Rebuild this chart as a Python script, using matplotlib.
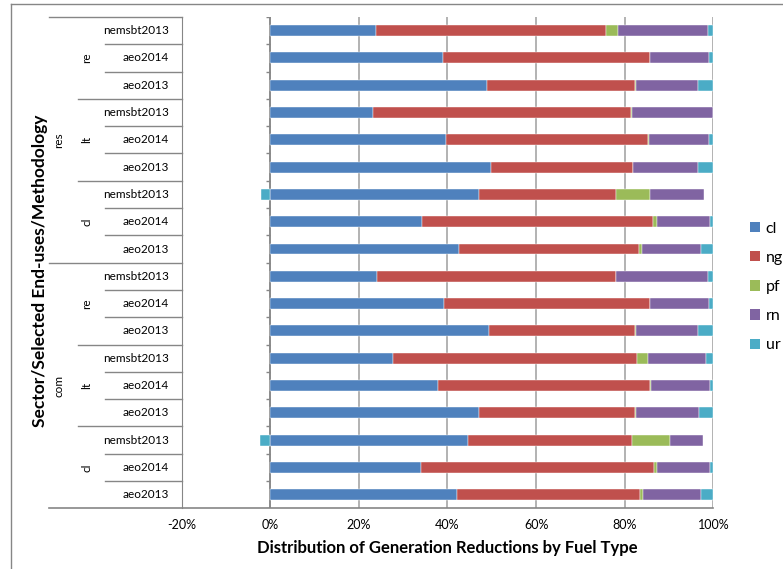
import numpy as np
import matplotlib
matplotlib.use("Agg")
from matplotlib import pyplot as plt
from matplotlib.lines import Line2D
from matplotlib.patches import Patch
from matplotlib.ticker import PercentFormatter

plt.rcParams['font.family'] = ['Lato', 'DejaVu Sans']
plt.rcParams['axes.unicode_minus'] = False

# rows top to bottom: sector / end-use / methodology
sectors = ["res", "com"]
end_uses = ["re", "lt", "cl"]
methods = ["nemsbt2013", "aeo2014", "aeo2013"]

fuels = ["cl", "ng", "pf", "rn", "ur"]
colors = ["#4F81BD", "#C0504D", "#9BBB59", "#8064A2", "#4BACC6"]

# share of generation reduction (%) by fuel, one value per row
cl = [23.8, 39.0, 49.0, 23.2, 39.6, 49.8, 47.2, 34.3, 42.6,
      24.0, 39.2, 49.3, 27.8, 37.8, 47.2, 44.7, 34.1, 42.1]
ng = [51.9, 46.6, 33.3, 58.2, 45.6, 32.0, 30.8, 52.1, 40.6,
      54.0, 46.4, 33.0, 54.9, 47.8, 35.1, 36.9, 52.5, 41.3]
pf = [2.7, 0.2, 0.3, 0.3, 0.2, 0.1, 7.6, 0.8, 0.6,
      0.1, 0.2, 0.3, 2.6, 0.4, 0.3, 8.6, 0.8, 0.7]
rn = [20.4, 13.3, 14.0, 18.2, 13.7, 14.6, 12.2, 12.1, 13.4,
      20.7, 13.3, 14.0, 13.1, 13.2, 14.2, 7.4, 11.9, 13.1]
ur = [1.2, 0.9, 3.4, 0.1, 0.9, 3.5, -2.2, 0.7, 2.8,
      1.2, 0.9, 3.4, 1.6, 0.8, 3.2, -2.3, 0.7, 2.8]

series = [cl, ng, pf, rn, ur]
n_rows = len(sectors) * len(end_uses) * len(methods)
rows = np.arange(n_rows)

W, H = 783, 569
fig = plt.figure(figsize=(W / 100, H / 100), dpi=100)
ax = fig.add_axes([181.7 / W, 1 - 508.3 / H, 531.6 / W, 491.3 / H])

line_col = "#868686"
grid_col = "#a6a6a6"

# stacked bars, negatives stacked to the left of zero
pos_left = np.zeros(n_rows)
neg_left = np.zeros(n_rows)
for name, vals, c in zip(fuels, series, colors):
    vals = np.array(vals, dtype=float)
    left = np.where(vals >= 0, pos_left, neg_left)
    ax.barh(rows, vals, left=left, height=0.4, color=c, edgecolor="white",
            linewidth=0.3, label=name, zorder=3)
    pos_left += np.where(vals >= 0, vals, 0)
    neg_left += np.where(vals < 0, vals, 0)

ax.set_xlim(-20, 100)
ax.set_ylim(n_rows - 0.5, -0.5)
ax.set_xticks(np.arange(-20, 101, 20))
ax.xaxis.set_major_formatter(PercentFormatter(100, decimals=0))
ax.tick_params(axis="x", length=0, pad=8, labelsize=9)
ax.set_yticks([])
ax.grid(axis="x", color=grid_col, linewidth=1.2, zorder=0)

for s in ["top", "right"]:
    ax.spines[s].set_visible(False)
ax.spines["left"].set_color(line_col)
ax.spines["bottom"].set_visible(False)

# value axis at 0% with small ticks between rows
ax.axvline(0, color=line_col, linewidth=1.2, zorder=2)
bounds = np.arange(-0.5, n_rows, 1.0)
ax.hlines(bounds, -0.9, 0, color=line_col, linewidth=1.0, zorder=2)

# multi-level category table to the left of the plot
tr = ax.get_yaxis_transform()
x_sector, x_use, x_method = -0.249, -0.196, -0.144
for b in bounds:
    k = int(b + 0.5)
    if k == 0 or k == n_rows // 2:
        x0 = x_sector
    elif k % len(methods) == 0:
        x0 = x_use
    else:
        x0 = x_method
    if k == n_rows:
        continue
    ax.plot([x0, 0], [b, b], color=line_col, linewidth=1.0, transform=tr,
            clip_on=False)
ax.plot([x_sector, 1], [n_rows - 0.5, n_rows - 0.5], color=line_col,
        linewidth=1.2, transform=tr, clip_on=False)

i = 0
for si, sec in enumerate(sectors):
    for ui, use in enumerate(end_uses):
        for m in methods:
            ax.text(-0.024, i, m, transform=tr, ha="right", va="center",
                    fontsize=8.5)
            i += 1
        mid = (si * len(end_uses) + ui) * len(methods) + 1
        ax.text(-0.178, mid, use, transform=tr, ha="center", va="center",
                rotation=90, fontsize=8.5)
    ax.text(-0.231, si * 9 + 4, sec, transform=tr, ha="center", va="center",
            rotation=90, fontsize=8.5)

ax.text(-0.267, 0.483, "Sector/Selected End-uses/Methodology",
        transform=ax.transAxes, rotation=90, ha="center", va="center",
        fontsize=12.5, fontweight="bold")
ax.set_xlabel("Distribution of Generation Reductions by Fuel Type",
              fontsize=12, fontweight="bold", labelpad=6)

handles = [Patch(facecolor=c, label=f) for f, c in zip(fuels, colors)]
fig.legend(handles=handles, loc="center left",
           bbox_to_anchor=(736 / W, 1 - 287 / H), frameon=False,
           fontsize=11.5, handlelength=0.62, handleheight=0.62,
           handletextpad=0.35, labelspacing=0.95)

# chart area border
fig.add_artist(Line2D([11 / W, 11 / W], [0, 1 - 4 / H], color=line_col,
                      linewidth=1.0, transform=fig.transFigure))
fig.add_artist(Line2D([11 / W, 1], [1 - 4 / H, 1 - 4 / H], color=line_col,
                      linewidth=1.0, transform=fig.transFigure))

fig.savefig("out.png", dpi=100)
